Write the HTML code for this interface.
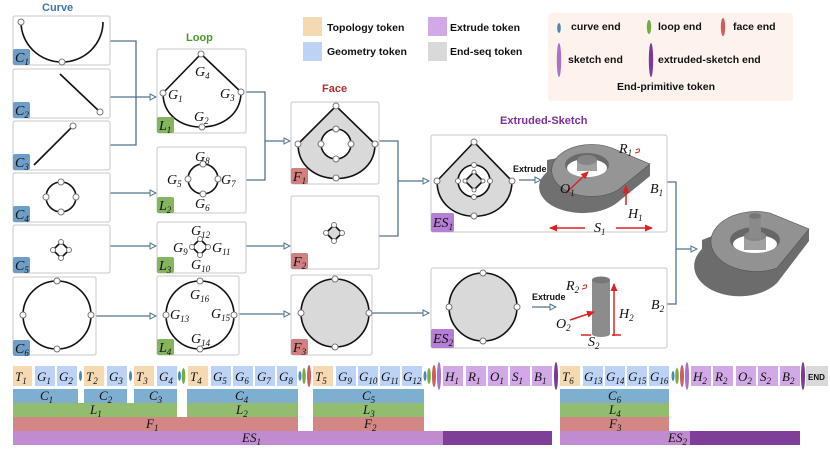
<!DOCTYPE html>
<html><head><meta charset="utf-8"><style>
body{margin:0;background:#fff}
svg{display:block}
.m{font-family:"Liberation Serif",serif;font-style:italic;font-size:14px;fill:#111}
.s{font-size:9px}
.t{font-family:"Liberation Sans",sans-serif;font-weight:bold;font-size:11px;fill:#111}
.box{fill:#fff;stroke:#c8c8c8;stroke-width:1}
.c{fill:none;stroke:#111;stroke-width:1.6}
.n{fill:#fff;stroke:#777;stroke-width:1}
.k{fill:none;stroke:#4e7590;stroke-width:1.3}
.tk text{font-family:"Liberation Serif",serif;font-style:italic;font-size:13px;fill:#111}
</style></head><body>
<svg width="830" height="467" viewBox="0 0 830 467" xmlns="http://www.w3.org/2000/svg">
<defs>
<marker id="a" markerWidth="8" markerHeight="8" refX="7" refY="4" orient="auto" markerUnits="userSpaceOnUse"><path d="M1,1 L7,4 L1,7 Z" fill="#fff" stroke="#4e7590" stroke-width="1"/></marker>
<marker id="r" markerWidth="8" markerHeight="8" refX="7" refY="4" orient="auto" markerUnits="userSpaceOnUse"><path d="M0,0.5 L8,4 L0,7.5 Z" fill="#d22"/></marker>
</defs>

<text x="42" y="11" class="t" style="fill:#3b77a8">Curve</text>
<text x="186" y="41" class="t" style="fill:#4a9a2a">Loop</text>
<text x="322" y="92" class="t" style="fill:#b03030">Face</text>
<text x="500" y="124" class="t" style="fill:#7d2f9a">Extruded-Sketch</text>

<rect x="303" y="17" width="19" height="19" fill="#f5d9b3"/><text x="327" y="31" class="t" style="font-size:10.5px">Topology token</text>
<rect x="303" y="42" width="19" height="19" fill="#bcd3f5"/><text x="327" y="55" class="t" style="font-size:10.5px">Geometry token</text>
<rect x="428" y="17" width="19" height="19" fill="#d3a8e6"/><text x="450" y="31" class="t" style="font-size:10.5px">Extrude token</text>
<rect x="428" y="42" width="19" height="19" fill="#d9d9d9"/><text x="450" y="55" class="t" style="font-size:10.5px">End-seq token</text>
<rect x="548" y="13" width="245" height="88" rx="3" fill="#fdf3ec"/>
<ellipse cx="559" cy="28" rx="1.8" ry="5" fill="#4d87b0"/><text x="571" y="30" class="t" style="font-size:10.5px">curve end</text>
<ellipse cx="649" cy="27" rx="2.2" ry="7" fill="#6fae45"/><text x="658" y="30" class="t" style="font-size:10.5px">loop end</text>
<ellipse cx="723" cy="27" rx="2.2" ry="9" fill="#cf5c5c"/><text x="733" y="30" class="t" style="font-size:10.5px">face end</text>
<ellipse cx="559" cy="60" rx="2.2" ry="17" fill="#a772c8"/><text x="568" y="63" class="t" style="font-size:10.5px">sketch end</text>
<ellipse cx="651" cy="60" rx="2.2" ry="17" fill="#7a3a98"/><text x="658" y="63" class="t" style="font-size:10.5px">extruded-sketch end</text>
<text x="617" y="90" class="t" style="font-size:10.5px">End-primitive token</text>

<path class="k" d="M110,41 H136 V145 H110 M110,97 H156" marker-end="url(#a)"/>
<path class="k" d="M110,193 H156" marker-end="url(#a)"/>
<path class="k" d="M110,246 H156" marker-end="url(#a)"/>
<path class="k" d="M96,316 H156" marker-end="url(#a)"/>
<path class="k" d="M246,92 H265 V180 H246 M265,141 H290" marker-end="url(#a)"/>
<path class="k" d="M246,246 H290" marker-end="url(#a)"/>
<path class="k" d="M239,314 H290" marker-end="url(#a)"/>
<path class="k" d="M379,141 H398 V236 H379 M398,181 H429" marker-end="url(#a)"/>
<path class="k" d="M372,313 H429" marker-end="url(#a)"/>
<path class="k" d="M657,182 H676 V304 H657 M676,249 H697" marker-end="url(#a)"/>

<rect class="box" x="13" y="16" width="97" height="49" rx="2"/>
<path class="c" d="M21,22 A41,40 0 0 0 103,22"/><circle class="n" cx="21" cy="22" r="3"/><circle class="n" cx="62" cy="62" r="3"/>
<rect class="box" x="13" y="69" width="97" height="49" rx="2"/>
<path class="c" d="M60,74 L100,112"/><circle class="n" cx="100" cy="112" r="3"/>
<rect class="box" x="13" y="121" width="97" height="49" rx="2"/>
<path class="c" d="M34,165 L73,126"/><circle class="n" cx="73" cy="126" r="3"/>
<rect class="box" x="13" y="173" width="97" height="49" rx="2"/>
<circle class="c" cx="61" cy="197" r="15"/><circle class="n" cx="61" cy="182" r="3"/><circle class="n" cx="61" cy="212" r="3"/><circle class="n" cx="46" cy="197" r="3"/><circle class="n" cx="76" cy="197" r="3"/>
<rect class="box" x="13" y="225" width="97" height="48" rx="2"/>
<path class="c" d="M61,242 L69,250 L61,258 L53,250 Z"/><circle class="n" cx="61" cy="242" r="2.5"/><circle class="n" cx="61" cy="258" r="2.5"/><circle class="n" cx="53" cy="250" r="2.5"/><circle class="n" cx="69" cy="250" r="2.5"/>
<rect class="box" x="13" y="277" width="83" height="78" rx="2"/>
<circle class="c" cx="57" cy="315" r="34"/><circle class="n" cx="57" cy="281" r="3"/><circle class="n" cx="57" cy="349" r="3"/><circle class="n" cx="23" cy="315" r="3"/><circle class="n" cx="91" cy="315" r="3"/>
<g>
<rect x="13" y="49" width="17" height="16" rx="2" fill="#6f9fc8"/><text x="15" y="62" class="m">C<tspan class="s" dy="3">1</tspan></text>
<rect x="13" y="102" width="17" height="16" rx="2" fill="#6f9fc8"/><text x="15" y="115" class="m">C<tspan class="s" dy="3">2</tspan></text>
<rect x="13" y="154" width="17" height="16" rx="2" fill="#6f9fc8"/><text x="15" y="167" class="m">C<tspan class="s" dy="3">3</tspan></text>
<rect x="13" y="206" width="17" height="16" rx="2" fill="#6f9fc8"/><text x="15" y="219" class="m">C<tspan class="s" dy="3">4</tspan></text>
<rect x="13" y="257" width="17" height="16" rx="2" fill="#6f9fc8"/><text x="15" y="270" class="m">C<tspan class="s" dy="3">5</tspan></text>
<rect x="13" y="340" width="17" height="16" rx="2" fill="#6f9fc8"/><text x="15" y="353" class="m">C<tspan class="s" dy="3">6</tspan></text>
</g>

<rect class="box" x="157" y="49" width="89" height="84" rx="2"/>
<path class="c" d="M163,93 L201,54 L241,92 C241,138 163,139 163,93"/>
<circle class="n" cx="201" cy="54" r="3"/><circle class="n" cx="163" cy="93" r="3"/><circle class="n" cx="241" cy="92" r="3"/><circle class="n" cx="202" cy="127" r="3"/>
<text x="195" y="76" class="m">G<tspan class="s" dy="3">4</tspan></text>
<text x="168" y="99" class="m">G<tspan class="s" dy="3">1</tspan></text>
<text x="220" y="98" class="m">G<tspan class="s" dy="3">3</tspan></text>
<text x="194" y="121" class="m">G<tspan class="s" dy="3">2</tspan></text>
<rect class="box" x="157" y="147" width="89" height="66" rx="2"/>
<circle class="c" cx="203" cy="179" r="15"/><circle class="n" cx="203" cy="164" r="3"/><circle class="n" cx="203" cy="194" r="3"/><circle class="n" cx="188" cy="179" r="3"/><circle class="n" cx="218" cy="179" r="3"/>
<text x="195" y="161" class="m">G<tspan class="s" dy="3">8</tspan></text>
<text x="167" y="184" class="m">G<tspan class="s" dy="3">5</tspan></text>
<text x="221" y="184" class="m">G<tspan class="s" dy="3">7</tspan></text>
<text x="195" y="208" class="m">G<tspan class="s" dy="3">6</tspan></text>
<rect class="box" x="157" y="222" width="89" height="51" rx="2"/>
<path class="c" d="M200,239 L208,247 L200,255 L192,247 Z"/><circle class="n" cx="200" cy="239" r="2.5"/><circle class="n" cx="200" cy="255" r="2.5"/><circle class="n" cx="192" cy="247" r="2.5"/><circle class="n" cx="208" cy="247" r="2.5"/>
<text x="191" y="235" class="m">G<tspan class="s" dy="3">12</tspan></text>
<text x="173" y="252" class="m">G<tspan class="s" dy="3">9</tspan></text>
<text x="212" y="252" class="m">G<tspan class="s" dy="3">11</tspan></text>
<text x="191" y="269" class="m">G<tspan class="s" dy="3">10</tspan></text>
<rect class="box" x="157" y="276" width="82" height="79" rx="2"/>
<circle class="c" cx="200" cy="315" r="34"/><circle class="n" cx="200" cy="281" r="3"/><circle class="n" cx="200" cy="349" r="3"/><circle class="n" cx="166" cy="315" r="3"/><circle class="n" cx="234" cy="315" r="3"/>
<text x="190" y="299" class="m">G<tspan class="s" dy="3">16</tspan></text>
<text x="170" y="319" class="m">G<tspan class="s" dy="3">13</tspan></text>
<text x="211" y="318" class="m">G<tspan class="s" dy="3">15</tspan></text>
<text x="191" y="343" class="m">G<tspan class="s" dy="3">14</tspan></text>
<rect x="157" y="117" width="17" height="16" rx="2" fill="#86b560"/><text x="159" y="130" class="m">L<tspan class="s" dy="3">1</tspan></text>
<rect x="157" y="197" width="17" height="16" rx="2" fill="#86b560"/><text x="159" y="210" class="m">L<tspan class="s" dy="3">2</tspan></text>
<rect x="157" y="257" width="17" height="16" rx="2" fill="#86b560"/><text x="159" y="270" class="m">L<tspan class="s" dy="3">3</tspan></text>
<rect x="157" y="339" width="17" height="16" rx="2" fill="#86b560"/><text x="159" y="352" class="m">L<tspan class="s" dy="3">4</tspan></text>

<rect class="box" x="291" y="102" width="88" height="82" rx="2"/>
<path class="c" d="M298,144 L336,106 L375,144 C375,190 298,190 298,144 Z" style="fill:#d9d9d9"/>
<circle class="c" cx="336" cy="144" r="15" style="fill:#fff"/>
<circle class="n" cx="336" cy="106" r="3"/><circle class="n" cx="298" cy="144" r="3"/><circle class="n" cx="375" cy="144" r="3"/><circle class="n" cx="336" cy="178" r="3"/>
<circle class="n" cx="336" cy="129" r="3"/><circle class="n" cx="336" cy="159" r="3"/><circle class="n" cx="321" cy="144" r="3"/><circle class="n" cx="351" cy="144" r="3"/>
<rect class="box" x="291" y="196" width="88" height="73" rx="2"/>
<path class="c" d="M334,225 L342,233 L334,241 L326,233 Z" style="fill:#d9d9d9"/><circle class="n" cx="334" cy="225" r="2.5"/><circle class="n" cx="334" cy="241" r="2.5"/><circle class="n" cx="326" cy="233" r="2.5"/><circle class="n" cx="342" cy="233" r="2.5"/>
<rect class="box" x="291" y="275" width="81" height="80" rx="2"/>
<circle class="c" cx="335" cy="313" r="34" style="fill:#d9d9d9"/><circle class="n" cx="335" cy="279" r="3"/><circle class="n" cx="335" cy="347" r="3"/><circle class="n" cx="301" cy="313" r="3"/><circle class="n" cx="369" cy="313" r="3"/>
<rect x="291" y="168" width="17" height="16" rx="2" fill="#d27f7f"/><text x="293" y="181" class="m">F<tspan class="s" dy="3">1</tspan></text>
<rect x="291" y="253" width="17" height="16" rx="2" fill="#d27f7f"/><text x="293" y="266" class="m">F<tspan class="s" dy="3">2</tspan></text>
<rect x="291" y="339" width="17" height="16" rx="2" fill="#d27f7f"/><text x="293" y="352" class="m">F<tspan class="s" dy="3">3</tspan></text>

<rect class="box" x="431" y="135" width="236" height="97" rx="2"/>
<path class="c" d="M437,181 L474,142 L512,181 C512,228 437,228 437,181 Z" style="fill:#d9d9d9"/>
<circle class="c" cx="474" cy="181" r="16" style="fill:#fff"/>
<path class="c" d="M474,172 L483,181 L474,190 L465,181 Z" style="fill:#d9d9d9"/>
<g fill="#fff" stroke="#777"><circle cx="474" cy="142" r="3"/><circle cx="437" cy="181" r="3"/><circle cx="512" cy="181" r="3"/><circle cx="474" cy="216" r="3"/><circle cx="474" cy="165" r="2.5"/><circle cx="474" cy="197" r="2.5"/><circle cx="458" cy="181" r="2.5"/><circle cx="490" cy="181" r="2.5"/><circle cx="474" cy="172" r="2"/><circle cx="474" cy="190" r="2"/><circle cx="465" cy="181" r="2"/><circle cx="483" cy="181" r="2"/></g>
<text x="513" y="172" class="t" style="font-size:9px">Extrude</text>
<path class="k" d="M519,180 H541" marker-end="url(#a)"/>
<path d="M612,148 L650,164 L650,176 L618,202 A40,24 0 1 1 547,172 L547,160 Z" fill="#707070"/>
<path d="M612,148 L650,164 L618,190 A40,26 0 1 1 612,148 Z" fill="#959595" stroke="#555" stroke-width="0.6"/>
<ellipse cx="587" cy="165" rx="22" ry="12" fill="#6a6a6a"/>
<ellipse cx="587" cy="168" rx="20" ry="9" fill="#fff"/>
<rect x="577" y="160" width="20" height="11" fill="#a0a0a0"/>
<ellipse cx="587" cy="160" rx="10" ry="5" fill="#858585"/>
<path d="M566,193 L588,172" stroke="#d22" stroke-width="1.5" marker-end="url(#r)"/>
<path d="M626,205 L626,186" stroke="#d22" stroke-width="1.5" marker-end="url(#r)"/>
<path d="M585,228 L550,228" stroke="#d22" stroke-width="1.5" marker-end="url(#r)"/>
<path d="M616,228 L652,228" stroke="#d22" stroke-width="1.5" marker-end="url(#r)"/>
<text x="560" y="193" class="m">O<tspan class="s" dy="3">1</tspan></text>
<text x="619" y="153" class="m">R<tspan class="s" dy="3">1</tspan></text>
<path d="M636,150 q5,-3 3,2 l-4,1" fill="none" stroke="#d22" stroke-width="1"/>
<text x="628" y="218" class="m">H<tspan class="s" dy="3">1</tspan></text>
<text x="594" y="232" class="m">S<tspan class="s" dy="3">1</tspan></text>
<text x="650" y="193" class="m">B<tspan class="s" dy="3">1</tspan></text>
<rect x="431" y="213" width="23" height="19" rx="2" fill="#b67fd6"/><text x="433" y="227" class="m">ES<tspan class="s" dy="3">1</tspan></text>

<rect class="box" x="431" y="268" width="236" height="80" rx="2"/>
<circle class="c" cx="483" cy="307" r="34" style="fill:#d9d9d9"/>
<g fill="#fff" stroke="#777"><circle cx="483" cy="273" r="3"/><circle cx="483" cy="341" r="3"/><circle cx="449" cy="307" r="3"/><circle cx="517" cy="307" r="3"/></g>
<text x="532" y="300" class="t" style="font-size:9px">Extrude</text>
<path class="k" d="M532,307 H556" marker-end="url(#a)"/>
<rect x="592" y="280" width="18" height="54" fill="#8c8c8c"/>
<ellipse cx="601" cy="334" rx="9" ry="3" fill="#8c8c8c"/>
<ellipse cx="601" cy="280" rx="9" ry="3.5" fill="#777"/>
<path d="M614,336 L614,284" stroke="#d22" stroke-width="1.5" marker-end="url(#r)"/>
<path d="M570,320 L594,312" stroke="#d22" stroke-width="1.5" marker-end="url(#r)"/>
<path d="M581,335 L591,335 M621,335 L612,335" stroke="#d22" stroke-width="1.5"/>
<text x="566" y="290" class="m">R<tspan class="s" dy="3">2</tspan></text>
<path d="M583,286 q5,-3 3,2 l-4,1" fill="none" stroke="#d22" stroke-width="1"/>
<text x="556" y="328" class="m">O<tspan class="s" dy="3">2</tspan></text>
<text x="619" y="318" class="m">H<tspan class="s" dy="3">2</tspan></text>
<text x="588" y="346" class="m">S<tspan class="s" dy="3">2</tspan></text>
<text x="651" y="309" class="m">B<tspan class="s" dy="3">2</tspan></text>
<rect x="431" y="329" width="23" height="19" rx="2" fill="#b67fd6"/><text x="433" y="343" class="m">ES<tspan class="s" dy="3">2</tspan></text>

<path d="M770,213 L809,229 L809,241 L777,283 A45,30 0 1 1 702,249 L702,240 Z" fill="#6c6c6c"/>
<path d="M770,213 L809,229 L777,268 A45,30 0 1 1 770,213 Z" fill="#929292" stroke="#555" stroke-width="0.6"/>
<ellipse cx="755" cy="240" rx="25" ry="13" fill="#666"/>
<ellipse cx="755" cy="244" rx="22" ry="9" fill="#fff"/>
<rect x="744" y="236" width="22" height="14" fill="#a0a0a0"/>
<ellipse cx="755" cy="236" rx="11" ry="5" fill="#858585"/>
<rect x="749" y="216" width="12" height="22" fill="#8a8a8a"/>
<ellipse cx="755" cy="216" rx="6" ry="3" fill="#777"/>

<g class="tk">
<rect x="13" y="366" width="19" height="20" fill="#f5d9b3"/><text x="15" y="381">T<tspan class="s" dy="3">1</tspan></text>
<rect x="35" y="366" width="20" height="20" fill="#bcd3f5"/><text x="37" y="381">G<tspan class="s" dy="3">1</tspan></text>
<rect x="57" y="366" width="20" height="20" fill="#bcd3f5"/><text x="59" y="381">G<tspan class="s" dy="3">2</tspan></text>
<ellipse cx="80.5" cy="376" rx="1.5" ry="5" fill="#4d87b0"/>
<rect x="84" y="366" width="20" height="20" fill="#f5d9b3"/><text x="86" y="381">T<tspan class="s" dy="3">2</tspan></text>
<rect x="107" y="366" width="20" height="20" fill="#bcd3f5"/><text x="109" y="381">G<tspan class="s" dy="3">3</tspan></text>
<ellipse cx="130.5" cy="376" rx="1.5" ry="5" fill="#4d87b0"/>
<rect x="134" y="366" width="20" height="20" fill="#f5d9b3"/><text x="136" y="381">T<tspan class="s" dy="3">3</tspan></text>
<rect x="157" y="366" width="20" height="20" fill="#bcd3f5"/><text x="159" y="381">G<tspan class="s" dy="3">4</tspan></text>
<ellipse cx="179.5" cy="376" rx="1.5" ry="5" fill="#4d87b0"/><ellipse cx="183.5" cy="376" rx="1.8" ry="8" fill="#6fae45"/>
<rect x="188" y="366" width="20" height="20" fill="#f5d9b3"/><text x="190" y="381">T<tspan class="s" dy="3">4</tspan></text>
<rect x="211" y="366" width="20" height="20" fill="#bcd3f5"/><text x="213" y="381">G<tspan class="s" dy="3">5</tspan></text>
<rect x="233" y="366" width="20" height="20" fill="#bcd3f5"/><text x="235" y="381">G<tspan class="s" dy="3">6</tspan></text>
<rect x="255" y="366" width="20" height="20" fill="#bcd3f5"/><text x="257" y="381">G<tspan class="s" dy="3">7</tspan></text>
<rect x="277" y="366" width="20" height="20" fill="#bcd3f5"/><text x="279" y="381">G<tspan class="s" dy="3">8</tspan></text>
<ellipse cx="300" cy="376" rx="1.5" ry="5" fill="#4d87b0"/><ellipse cx="304" cy="376" rx="1.8" ry="8" fill="#6fae45"/><ellipse cx="309" cy="376" rx="2" ry="11" fill="#cf5c5c"/>
<rect x="313" y="366" width="20" height="20" fill="#f5d9b3"/><text x="315" y="381">T<tspan class="s" dy="3">5</tspan></text>
<rect x="336" y="366" width="20" height="20" fill="#bcd3f5"/><text x="338" y="381">G<tspan class="s" dy="3">9</tspan></text>
<rect x="358" y="366" width="20" height="20" fill="#bcd3f5"/><text x="359" y="381">G<tspan class="s" dy="3">10</tspan></text>
<rect x="380" y="366" width="20" height="20" fill="#bcd3f5"/><text x="381" y="381">G<tspan class="s" dy="3">11</tspan></text>
<rect x="402" y="366" width="20" height="20" fill="#bcd3f5"/><text x="403" y="381">G<tspan class="s" dy="3">12</tspan></text>
<ellipse cx="425" cy="376" rx="1.5" ry="5" fill="#4d87b0"/><ellipse cx="429" cy="376" rx="1.8" ry="8" fill="#6fae45"/><ellipse cx="434" cy="376" rx="2" ry="11" fill="#cf5c5c"/><ellipse cx="439" cy="376" rx="2" ry="14" fill="#a772c8"/>
<rect x="443" y="366" width="20" height="20" fill="#d3a8e6"/><text x="445" y="381">H<tspan class="s" dy="3">1</tspan></text>
<rect x="466" y="366" width="20" height="20" fill="#d3a8e6"/><text x="468" y="381">R<tspan class="s" dy="3">1</tspan></text>
<rect x="488" y="366" width="20" height="20" fill="#d3a8e6"/><text x="490" y="381">O<tspan class="s" dy="3">1</tspan></text>
<rect x="510" y="366" width="20" height="20" fill="#d3a8e6"/><text x="512" y="381">S<tspan class="s" dy="3">1</tspan></text>
<rect x="532" y="366" width="20" height="20" fill="#d3a8e6"/><text x="534" y="381">B<tspan class="s" dy="3">1</tspan></text>
<ellipse cx="556" cy="376" rx="2" ry="14" fill="#7a3a98"/>
<rect x="560" y="366" width="20" height="20" fill="#f5d9b3"/><text x="562" y="381">T<tspan class="s" dy="3">6</tspan></text>
<rect x="583" y="366" width="20" height="20" fill="#bcd3f5"/><text x="584" y="381">G<tspan class="s" dy="3">13</tspan></text>
<rect x="605" y="366" width="20" height="20" fill="#bcd3f5"/><text x="606" y="381">G<tspan class="s" dy="3">14</tspan></text>
<rect x="627" y="366" width="20" height="20" fill="#bcd3f5"/><text x="628" y="381">G<tspan class="s" dy="3">15</tspan></text>
<rect x="649" y="366" width="20" height="20" fill="#bcd3f5"/><text x="650" y="381">G<tspan class="s" dy="3">16</tspan></text>
<ellipse cx="673" cy="376" rx="1.5" ry="5" fill="#4d87b0"/><ellipse cx="677" cy="376" rx="1.8" ry="8" fill="#6fae45"/><ellipse cx="682" cy="376" rx="2" ry="11" fill="#cf5c5c"/><ellipse cx="687" cy="376" rx="2" ry="14" fill="#a772c8"/>
<rect x="691" y="366" width="20" height="20" fill="#d3a8e6"/><text x="693" y="381">H<tspan class="s" dy="3">2</tspan></text>
<rect x="713" y="366" width="20" height="20" fill="#d3a8e6"/><text x="715" y="381">R<tspan class="s" dy="3">2</tspan></text>
<rect x="736" y="366" width="20" height="20" fill="#d3a8e6"/><text x="738" y="381">O<tspan class="s" dy="3">2</tspan></text>
<rect x="758" y="366" width="20" height="20" fill="#d3a8e6"/><text x="760" y="381">S<tspan class="s" dy="3">2</tspan></text>
<rect x="780" y="366" width="20" height="20" fill="#d3a8e6"/><text x="782" y="381">B<tspan class="s" dy="3">2</tspan></text>
<ellipse cx="803" cy="376" rx="2" ry="14" fill="#7a3a98"/>
<rect x="806" y="366" width="22" height="20" fill="#d9d9d9"/>
</g>
<text x="808" y="380" class="t" style="font-size:8px">END</text>

<g>
<rect x="13" y="389" width="65" height="14" fill="#7eaed0"/><rect x="84" y="389" width="43" height="14" fill="#7eaed0"/><rect x="134" y="389" width="43" height="14" fill="#7eaed0"/><rect x="187" y="389" width="111" height="14" fill="#7eaed0"/><rect x="313" y="389" width="111" height="14" fill="#7eaed0"/><rect x="560" y="389" width="109" height="14" fill="#7eaed0"/>
<rect x="13" y="403" width="164" height="14" fill="#93bd6e"/><rect x="187" y="403" width="111" height="14" fill="#93bd6e"/><rect x="313" y="403" width="111" height="14" fill="#93bd6e"/><rect x="560" y="403" width="109" height="14" fill="#93bd6e"/>
<rect x="13" y="417" width="285" height="14" fill="#d38785"/><rect x="313" y="417" width="111" height="14" fill="#d38785"/><rect x="560" y="417" width="109" height="14" fill="#d38785"/>
<rect x="13" y="431" width="430" height="14" fill="#c08ccf"/><rect x="443" y="431" width="109" height="14" fill="#7f3f98"/>
<rect x="560" y="431" width="130" height="14" fill="#c08ccf"/><rect x="690" y="431" width="110" height="14" fill="#7f3f98"/>
</g>
<g class="m" style="font-size:13px">
<text x="40" y="400">C<tspan class="s" dy="3">1</tspan></text><text x="99" y="400">C<tspan class="s" dy="3">2</tspan></text><text x="149" y="400">C<tspan class="s" dy="3">3</tspan></text><text x="235" y="400">C<tspan class="s" dy="3">4</tspan></text><text x="362" y="400">C<tspan class="s" dy="3">5</tspan></text><text x="608" y="400">C<tspan class="s" dy="3">6</tspan></text>
<text x="90" y="414">L<tspan class="s" dy="3">1</tspan></text><text x="236" y="414">L<tspan class="s" dy="3">2</tspan></text><text x="363" y="414">L<tspan class="s" dy="3">3</tspan></text><text x="609" y="414">L<tspan class="s" dy="3">4</tspan></text>
<text x="146" y="428">F<tspan class="s" dy="3">1</tspan></text><text x="364" y="428">F<tspan class="s" dy="3">2</tspan></text><text x="609" y="428">F<tspan class="s" dy="3">3</tspan></text>
<text x="242" y="442">ES<tspan class="s" dy="3">1</tspan></text><text x="668" y="442">ES<tspan class="s" dy="3">2</tspan></text>
</g>
</svg>
</body></html>
